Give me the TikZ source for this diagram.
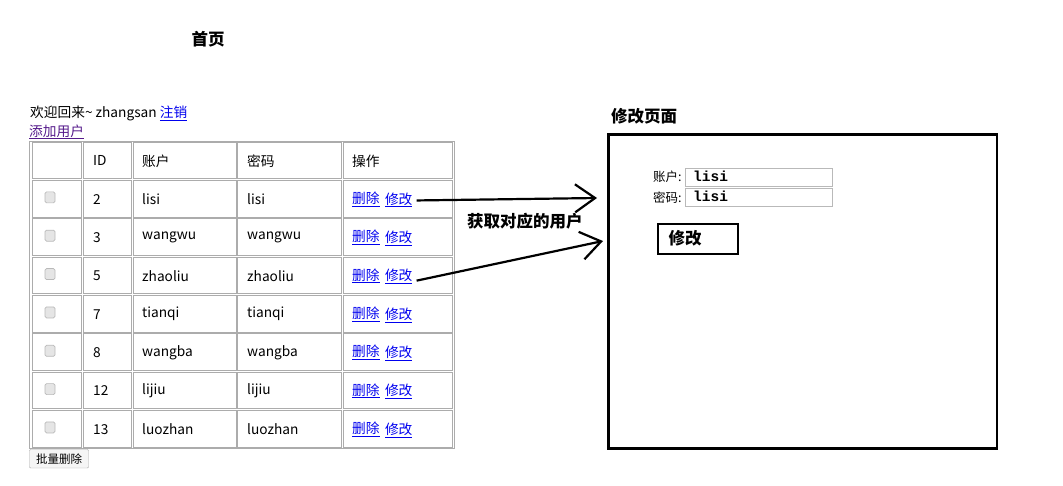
\documentclass[tikz,border=0pt]{standalone}
\usepackage{fontspec}
\setmainfont{Noto Sans CJK SC}
\newfontfamily\inputfont{Liberation Mono}
\usetikzlibrary{arrows.meta,positioning}
\definecolor{linkblue}{RGB}{0,0,238}
\definecolor{linkvisited}{RGB}{85,26,139}
\newcommand{\lnk}[1]{\textcolor{linkblue}{\underline{#1}}}

\begin{document}
\begin{tikzpicture}[x=1pt,y=-1pt,
  every node/.style={inner sep=0pt},
  txt/.style={anchor=west,yshift=-0.8pt,font=\fontsize{13.7}{16}\selectfont},
  cell/.style={draw=gray!65,line width=0.8pt,anchor=north west,minimum height=36.6pt},
  chk/.style={draw=gray!55,fill=gray!20,line width=0.7pt,rounded corners=1.5pt,minimum width=10pt,minimum height=11pt},
  head/.style={font=\fontsize{16.5}{19}\selectfont\bfseries},
  field/.style={draw=gray!55,line width=0.6pt,anchor=north west,minimum width=147pt,minimum height=18pt},
  bigarrow/.style={line width=2.2pt,-{Straight Barb[length=20pt,width=28pt]}}]
	\useasboundingbox (0,0) rectangle (1063,485);
	\node[head] (home) at (208,39) {首页};
	\node[txt] (welcome) at (30,113) {欢迎回来\textasciitilde{} zhangsan \lnk{注销}};
	\node[txt] (adduser) at (29,131) {\textcolor{linkvisited}{\underline{添加用户}}};
	\draw[gray!65,line width=0.9pt] (29.3,141) rectangle (454.6,448.4);
	\foreach \i in {0,...,7}
		\foreach \l/\rt [count=\j] in {31.7/80.7,83.3/130.7,133.3/235.7,237.3/340.7,342.7/452.3} {
			\pgfmathsetmacro\yt{141.7+38.35*\i}
			\pgfmathsetmacro\w{\rt-\l}
			\node[cell,minimum width=\w pt] (c-\i-\j) at (\l,\yt) {};
		}
	\node[txt] (h-id) at (93,160) {ID};
	\node[txt] (h-acc) at (142,160) {账户};
	\node[txt] (h-pwd) at (247,160) {密码};
	\node[txt] (h-op) at (352,160) {操作};
	\foreach \id/\acc [count=\i] in {2/lisi,3/wangwu,5/zhaoliu,7/tianqi,8/wangba,12/lijiu,13/luozhan} {
		\pgfmathsetmacro\ym{160+38.35*\i}
		\node[chk] (chk-\i) at (50,\ym-1) {};
		\node[txt] (id-\i) at (93,\ym) {\id};
		\node[txt] (acc-\i) at (142,\ym) {\acc};
		\node[txt] (pwd-\i) at (247,\ym) {\acc};
		\node[txt] (del-\i) at (352,\ym) {\lnk{删除}};
		\node[txt,right=5pt of del-\i] (edit-\i) {\lnk{修改}};
	}
	\node[draw=gray!70,fill=gray!8,rounded corners=1pt,anchor=north west,minimum width=59pt,minimum height=18.5pt,font=\fontsize{11.5}{13}\selectfont] (batchdel) at (29.3,449.3) {批量删除};
	\node[head,anchor=west] (edittitle) at (611,116) {修改页面};
	\node[draw,line width=2.6pt,anchor=north west,minimum width=388.4pt,minimum height=313.6pt] (editbox) at (607.3,133.3) {};
	\node[txt,font=\fontsize{12.5}{15}\selectfont] (acclbl) at (653,176) {账户:};
	\node[field] (accfield) at (685,168) {};
	\node[anchor=west,font=\inputfont\bfseries\fontsize{14.5}{16}\selectfont] (accval) at (693,176.5) {lisi};
	\node[txt,font=\fontsize{12.5}{15}\selectfont] (pwdlbl) at (653,197) {密码:};
	\node[field] (pwdfield) at (685,188) {};
	\node[anchor=west,font=\inputfont\bfseries\fontsize{14.5}{16}\selectfont] (pwdval) at (693,196.5) {lisi};
	\node[draw,line width=2.2pt,anchor=north west,head,text width=58pt,inner xsep=11pt,minimum height=30pt,align=left] (savebtn) at (656.5,222.5) {修改};
	\node[head,anchor=west] (fetch) at (467,221) {获取对应的用户};
	\coordinate (tip1) at (597,198);
	\coordinate (tip2) at (603,241);
	\draw[bigarrow] ([xshift=4pt,yshift=-0.5pt]edit-1.east) -- (tip1);
	\draw[bigarrow] ([xshift=4pt,yshift=-4pt]edit-3.east) -- (tip2);
\end{tikzpicture}
\end{document}
